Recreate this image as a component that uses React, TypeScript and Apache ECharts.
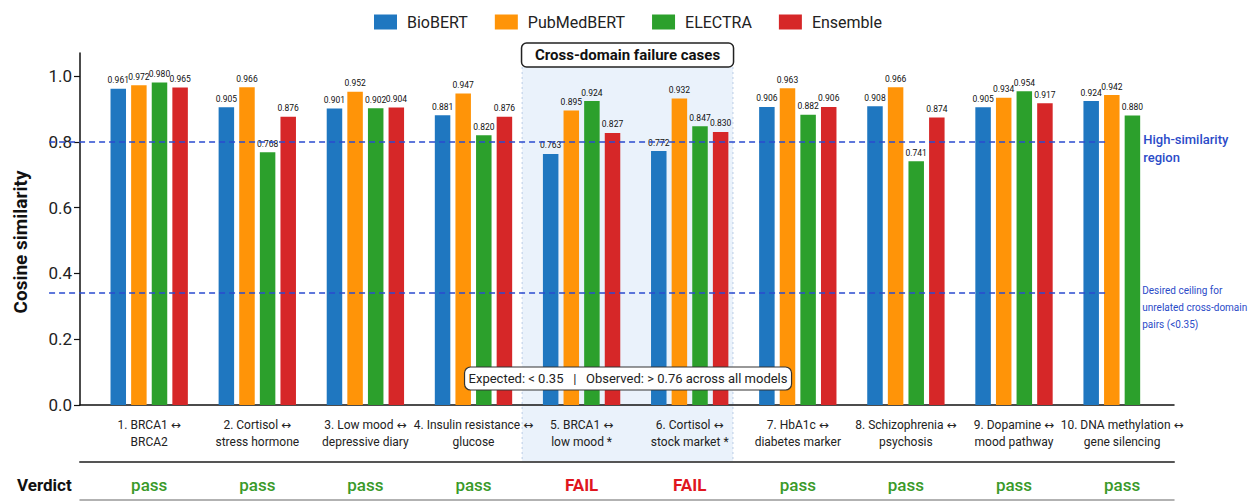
import React, { useEffect, useRef } from 'react';
import * as echarts from 'echarts';

const models = ['BioBERT', 'PubMedBERT', 'ELECTRA', 'Ensemble'];
const modelColors = ['#1f77c0', '#ff9408', '#2ca02c', '#d62728'];
const categories = [
  '1. BRCA1 ↔\nBRCA2',
  '2. Cortisol ↔\nstress hormone',
  '3. Low mood ↔\ndepressive diary',
  '4. Insulin resistance ↔\nglucose',
  '5. BRCA1 ↔\nlow mood *',
  '6. Cortisol ↔\nstock market *',
  '7. HbA1c ↔\ndiabetes marker',
  '8. Schizophrenia ↔\npsychosis',
  '9. Dopamine ↔\nmood pathway',
  '10. DNA methylation ↔\ngene silencing',
];
const bioBERT = [0.961, 0.905, 0.901, 0.881, 0.763, 0.772, 0.906, 0.908, 0.905, 0.924];
const pubMedBERT = [0.972, 0.966, 0.952, 0.947, 0.895, 0.932, 0.963, 0.966, 0.934, 0.942];
const electra = [0.98, 0.768, 0.902, 0.82, 0.924, 0.847, 0.882, 0.741, 0.954, 0.88];
const ensemble = [0.965, 0.876, 0.904, 0.876, 0.827, 0.83, 0.906, 0.874, 0.917, null];
const verdicts = ['pass', 'pass', 'pass', 'pass', 'FAIL', 'FAIL', 'pass', 'pass', 'pass', 'pass'];
const yTicks = [0, 0.2, 0.4, 0.6, 0.8, 1.0];
const highSimilarity = 0.8;
const desiredCeiling = 0.34;
const failureRange = [3.45, 5.4];

const X_MIN = -0.64;
const X_MAX = 9.48;
const LINE_END = 9.14;
const FONT = "Roboto, 'DejaVu Sans', 'Noto Sans', sans-serif";

export default function App() {
  const ref = useRef<HTMLDivElement>(null);
  useEffect(() => {
    document.body.style.margin = '0';
    if (!ref.current) return;
    const chart = echarts.init(ref.current, undefined, { renderer: 'svg' });
    const seriesData = [bioBERT, pubMedBERT, electra, ensemble];
    const idx = categories.map((_, i) => i);

    const series: any[] = seriesData.map((vals, k) => ({
      name: models[k],
      type: 'bar',
      barWidth: 15.5,
      barGap: '33%',
      itemStyle: { color: modelColors[k] },
      data: vals
        .map((v, i) => (v == null ? null : [i, v]))
        .filter((d) => d != null),
      label: {
        show: true,
        position: 'top',
        distance: 4,
        fontSize: 8.5,
        fontFamily: FONT,
        color: '#111',
        formatter: (p: any) => Number(p.value[1]).toFixed(3),
      },
      markLine:
        k === 0
          ? {
              silent: true,
              symbol: 'none',
              label: { show: false },
              lineStyle: { type: [6, 4], color: '#2a4bd0', width: 1.5 },
              data: [
                [{ coord: [X_MIN, highSimilarity] }, { coord: [LINE_END, highSimilarity] }],
                [{ coord: [X_MIN, desiredCeiling] }, { coord: [LINE_END, desiredCeiling] }],
              ],
            }
          : undefined,
    }));

    chart.setOption({
      animation: false,
      textStyle: { fontFamily: FONT },
      legend: {
        left: 369,
        top: 9,
        itemWidth: 23,
        itemHeight: 15,
        itemGap: 27,
        icon: 'rect',
        data: models,
        textStyle: { fontSize: 16, color: '#222', padding: [0, 0, 0, 5], fontFamily: FONT },
      },
      grid: { left: 80, right: 76, top: 53, bottom: 97, containLabel: false },
      xAxis: [
        {
          type: 'value',
          min: X_MIN,
          max: X_MAX,
          axisLine: { show: true, onZero: false, lineStyle: { color: '#111', width: 1.5 } },
          axisTick: { show: false },
          splitLine: { show: false },
          axisLabel: {
            customValues: idx,
            formatter: (v: number) => categories[Math.round(v)] ?? '',
            fontSize: 12,
            lineHeight: 17,
            color: '#222',
            margin: 11,
            fontFamily: FONT,
          },
        },
        {
          type: 'value',
          min: X_MIN,
          max: X_MAX,
          position: 'bottom',
          offset: 57,
          axisLine: { show: true, onZero: false, lineStyle: { color: '#555', width: 2 } },
          axisTick: { show: false },
          splitLine: { show: false },
          axisLabel: {
            customValues: idx,
            margin: 14,
            formatter: (v: number) =>
              verdicts[Math.round(v)] === 'pass' ? '{p|pass}' : '{f|FAIL}',
            rich: {
              p: { color: '#3a9a2a', fontSize: 17, fontWeight: 500, fontFamily: FONT },
              f: { color: '#e0161e', fontSize: 17, fontWeight: 'bold', fontFamily: FONT },
            },
          },
        },
        {
          type: 'value',
          min: X_MIN,
          max: X_MAX,
          position: 'bottom',
          offset: 95,
          axisLine: { show: true, onZero: false, lineStyle: { color: '#999', width: 1.5 } },
          axisTick: { show: false },
          splitLine: { show: false },
          axisLabel: { show: false },
        },
      ],
      yAxis: {
        type: 'value',
        min: 0,
        max: 1.07,
        interval: 0.2,
        axisLine: { show: true, onZero: false, lineStyle: { color: '#111', width: 1.5 } },
        axisTick: { show: true, length: 6, customValues: yTicks, lineStyle: { color: '#111', width: 1.2 } },
        splitLine: { show: false },
        axisLabel: {
          customValues: yTicks,
          formatter: (v: number) => v.toFixed(1),
          fontSize: 17,
          color: '#222',
          margin: 8,
        },
      },
      series,
    });

    const px = (v: number) => chart.convertToPixel({ xAxisIndex: 0 }, v) as number;
    const py = (v: number) => chart.convertToPixel({ yAxisIndex: 0 }, v) as number;
    const x1 = px(failureRange[0]);
    const x2 = px(failureRange[1]);
    const cx = (x1 + x2) / 2;
    const yHigh = py(highSimilarity);
    const yLow = py(desiredCeiling);
    const xEnd = px(LINE_END);

    chart.setOption({
      graphic: [
        {
          type: 'rect',
          z: -1,
          silent: true,
          shape: { x: x1, y: 67, width: x2 - x1, height: 394 },
          style: { fill: '#eaf2fb' },
        },
        {
          type: 'line',
          z: -1,
          shape: { x1: x1, y1: 67, x2: x1, y2: 461 },
          style: { stroke: '#b9cde6', lineWidth: 1, lineDash: [2, 3] },
        },
        {
          type: 'line',
          z: -1,
          shape: { x1: x2, y1: 67, x2: x2, y2: 461 },
          style: { stroke: '#b9cde6', lineWidth: 1, lineDash: [2, 3] },
        },
        {
          type: 'rect',
          z: 10,
          shape: { x: cx - 106, y: 43, width: 212, height: 24, r: 5 },
          style: { fill: '#fff', stroke: '#222', lineWidth: 1.5 },
        },
        {
          type: 'text',
          z: 11,
          x: cx,
          y: 55,
          style: {
            text: 'Cross-domain failure cases',
            fontSize: 15,
            fontWeight: 'bold',
            fontFamily: FONT,
            fill: '#111',
            align: 'center',
            verticalAlign: 'middle',
          },
        },
        {
          type: 'rect',
          z: 10,
          shape: { x: cx - 163, y: 367, width: 327, height: 23, r: 6 },
          style: { fill: '#fff', stroke: '#333', lineWidth: 1.2 },
        },
        {
          type: 'text',
          z: 11,
          x: cx + 0.5,
          y: 378.5,
          style: {
            text: 'Expected: < 0.35   |   Observed: > 0.76 across all models',
            fontSize: 13,
            fontFamily: FONT,
            fill: '#222',
            align: 'center',
            verticalAlign: 'middle',
          },
        },
        {
          type: 'text',
          x: xEnd + 6,
          y: yHigh - 11,
          style: {
            text: 'High-similarity\nregion',
            fontSize: 13,
            lineHeight: 18,
            fontWeight: 500,
            fontFamily: FONT,
            fill: '#2b4bc8',
            align: 'left',
            verticalAlign: 'top',
          },
        },
        {
          type: 'text',
          x: xEnd + 5,
          y: yLow - 11,
          style: {
            text: 'Desired ceiling for\nunrelated cross-domain\npairs (<0.35)',
            fontSize: 10,
            lineHeight: 17,
            fontFamily: FONT,
            fill: '#2b4bc8',
            align: 'left',
            verticalAlign: 'top',
          },
        },
        {
          type: 'text',
          x: 17,
          y: 485,
          style: {
            text: 'Verdict',
            fontSize: 17,
            fontWeight: 'bold',
            fontFamily: FONT,
            fill: '#111',
            align: 'left',
            verticalAlign: 'middle',
          },
        },
        {
          type: 'text',
          x: 20,
          y: 242,
          rotation: Math.PI / 2,
          style: {
            text: 'Cosine similarity',
            fontSize: 19,
            fontWeight: 'bold',
            fontFamily: FONT,
            fill: '#111',
            align: 'center',
            verticalAlign: 'middle',
          },
        },
      ],
    });

    return () => chart.dispose();
  }, []);
  return <div ref={ref} style={{ width: 1250, height: 502 }} />;
}
